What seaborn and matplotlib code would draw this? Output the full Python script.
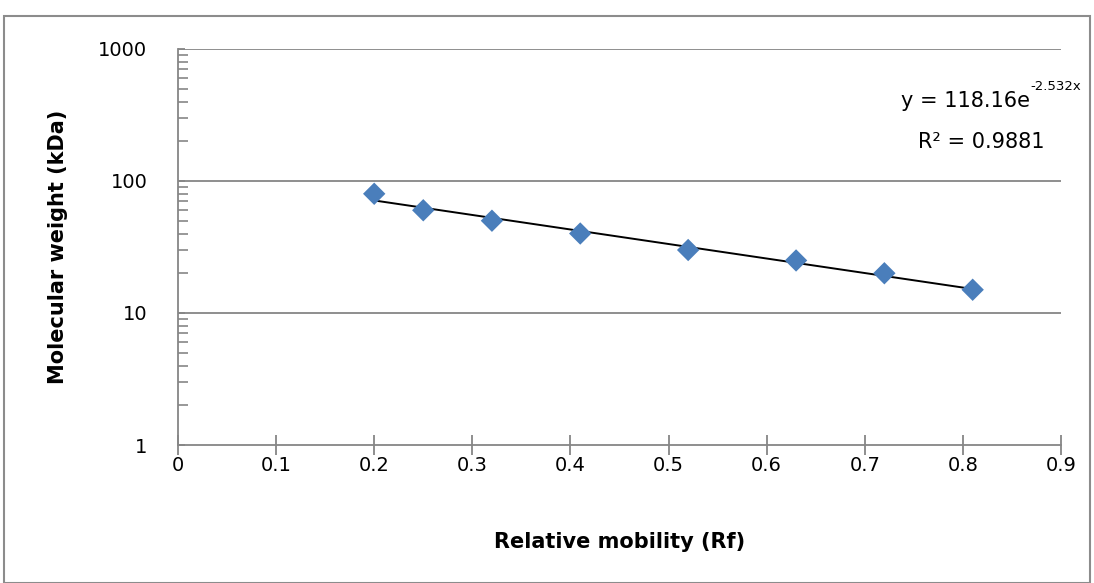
import numpy as np
import pandas as pd
import seaborn as sns
import matplotlib.pyplot as plt
from matplotlib.patches import Rectangle
from matplotlib.ticker import LogLocator, FixedLocator, NullFormatter

# data
rf = [0.2, 0.25, 0.32, 0.41, 0.52, 0.63, 0.72, 0.81]
mw = [80, 60, 50, 40, 30, 25, 20, 15]
fit_a = 118.16
fit_b = -2.532
x_ticks = [0, 0.1, 0.2, 0.3, 0.4, 0.5, 0.6, 0.7, 0.8, 0.9]
y_ticks = [1, 10, 100, 1000]

df = pd.DataFrame({"rf": rf, "mw": mw})
xs = np.linspace(min(rf), max(rf), 50)
df_fit = pd.DataFrame({"rf": xs, "mw": fit_a * np.exp(fit_b * xs)})

sns.set_style("white")
plt.rcParams["font.family"] = ["DejaVu Sans"]
plt.rcParams["text.color"] = "black"
plt.rcParams["axes.labelcolor"] = "black"

fig = plt.figure(figsize=(10.94, 5.83), dpi=100)
ax = fig.add_axes([0.1627, 0.2367, 0.9698 - 0.1627, 0.916 - 0.2367])

grid_c = "#868686"
ax.set_yscale("log")
ax.set_xlim(0, 0.9)
ax.set_ylim(1, 1000)
for v in y_ticks[1:]:
    ax.axhline(v, color=grid_c, lw=1.3, zorder=0)

sns.lineplot(data=df_fit, x="rf", y="mw", color="black", lw=1.4, ax=ax, zorder=2)
sns.scatterplot(data=df, x="rf", y="mw", marker="D", s=130, color="#4A7EBB",
                edgecolor="none", ax=ax, zorder=3)

ax.xaxis.set_major_locator(FixedLocator(x_ticks))
ax.set_xticklabels([f"{t:g}" for t in x_ticks])
ax.yaxis.set_major_locator(FixedLocator(y_ticks))
ax.set_yticklabels([str(t) for t in y_ticks])
ax.yaxis.set_minor_locator(LogLocator(base=10, subs=np.arange(2, 10)))
ax.yaxis.set_minor_formatter(NullFormatter())

for s in ["top", "right"]:
    ax.spines[s].set_visible(False)
for s in ["left", "bottom"]:
    ax.spines[s].set_color(grid_c)
    ax.spines[s].set_linewidth(1.3)

ax.tick_params(axis="x", which="major", direction="inout", length=14, width=1.3,
               color=grid_c, labelcolor="black", labelsize=14, pad=1, bottom=True)
ax.tick_params(axis="y", which="major", direction="in", length=5, width=1.3,
               color=grid_c, labelcolor="black", labelsize=14, pad=22, left=True)
ax.tick_params(axis="y", which="minor", direction="in", length=7, width=1.2,
               color=grid_c, left=True)

ax.set_xlabel("Relative mobility (Rf)", fontsize=15, fontweight="bold", labelpad=41)
ax.set_ylabel("Molecular weight (kDa)", fontsize=15, fontweight="bold", labelpad=22)

eq = fig.text(0.9415, 0.826, "y = 118.16e", ha="right", va="center", fontsize=15)
ax.annotate("-2.532x", xy=(1, 0.9), xycoords=eq, ha="left", va="bottom", fontsize=9.5,
            annotation_clip=False)
fig.text(0.897, 0.757, "R² = 0.9881", ha="center", va="center", fontsize=15)

fig.patches.append(Rectangle((0.004, 0.0), 0.992, 0.973, transform=fig.transFigure,
                             fill=False, edgecolor="#8c8c8c", lw=1.5))

fig.savefig("out.png", dpi=100)
